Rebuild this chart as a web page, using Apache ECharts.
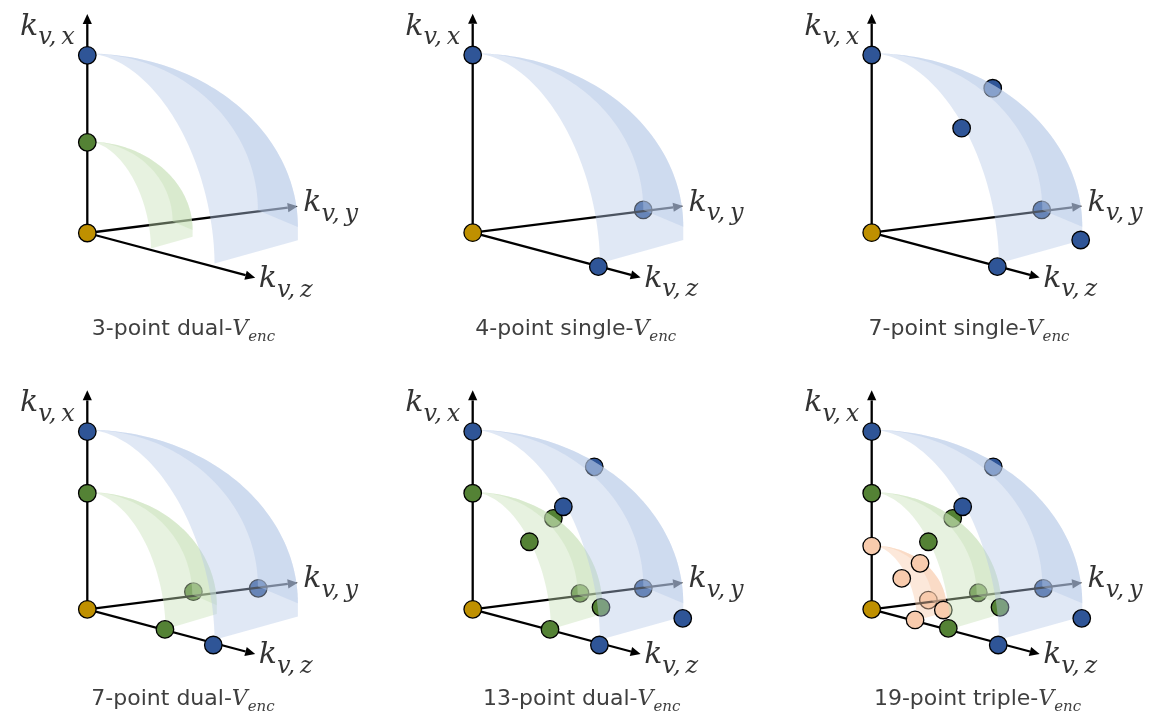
<!DOCTYPE html>
<html>
<head>
<meta charset="utf-8">
<script src="https://cdn.jsdelivr.net/npm/echarts@6/dist/echarts.min.js"></script>
<style>
html,body{margin:0;padding:0;background:#ffffff;}
#c{width:1160px;height:725px;}
</style>
</head>
<body>
<div id="c"></div>
<script>
// ---------------- DATA (normalised units: blue shell radius on k_vx = 1) ----------------
const captions = ['3-point dual-', '4-point single-', '7-point single-', '7-point dual-', '13-point dual-', '19-point triple-'];
const axisLabels = { x: 'v,\u2009x', y: 'v,\u2009y', z: 'v,\u2009z' };
const axisTips = { x: [0, 1.232], y: [1.184, 0.150], z: [0.945, -0.252] };

// points: [x, y, colour, layer]  (layer 0 = behind every shell, 1 = behind green/blue, 2 = behind blue, 3 = front)
const points1 = [[0,0,'gold',3],[0,1,'blue',3],[0,0.51,'green',3]];
const points2 = [[0,0,'gold',3],[0,1,'blue',3],[0.960,0.128,'blue',0],[0.707,-0.191,'blue',3]];
const points3 = [[0,0,'gold',3],[0,1,'blue',3],[0.681,0.813,'blue',0],[0.506,0.588,'blue',3],
                 [0.957,0.128,'blue',0],[1.176,-0.041,'blue',3],[0.707,-0.191,'blue',3]];
const points4 = [[0,0,'gold',3],[0,1,'blue',3],[0,0.653,'green',3],[0.597,0.099,'green',0],
                 [0.962,0.118,'blue',0],[0.437,-0.113,'green',3],[0.709,-0.201,'blue',3]];
const points5 = [[0,0,'gold',3],[0,1,'blue',3],[0,0.653,'green',3],[0.684,0.802,'blue',0],
                 [0.454,0.512,'green',0],[0.510,0.577,'blue',3],[0.319,0.380,'green',3],
                 [0.604,0.090,'green',0],[0.722,0.011,'green',2],[0.960,0.118,'blue',0],
                 [1.182,-0.051,'blue',3],[0.435,-0.113,'green',3],[0.713,-0.201,'blue',3]];
const points6 = [[0,0,'gold',3],[0,1,'blue',3],[0,0.653,'green',3],[0,0.356,'peach',3],
                 [0.684,0.802,'blue',0],[0.456,0.512,'green',0],[0.512,0.577,'blue',3],[0.319,0.380,'green',3],
                 [0.272,0.259,'peach',1],[0.169,0.174,'peach',3],[0.319,0.052,'peach',0],[0.403,-0.004,'peach',1],
                 [0.244,-0.060,'peach',3],[0.431,-0.107,'green',3],[0.600,0.093,'green',0],[0.722,0.011,'green',2],
                 [0.966,0.118,'blue',0],[1.182,-0.051,'blue',3],[0.712,-0.201,'blue',3]];

// shells: [colour, scaleX, scaleY]
const shells1 = [['green',0.50,0.51],['blue',1,1]];
const shells2 = [['blue',1,1]];
const shells3 = [['blue',1,1]];
const shells4 = [['green',0.615,0.653],['blue',1,1]];
const shells5 = [['green',0.615,0.653],['blue',1,1]];
const shells6 = [['peach',0.355,0.356],['green',0.615,0.653],['blue',1,1]];

const panelPoints = [points1, points2, points3, points4, points5, points6];
const panelShells = [shells1, shells2, shells3, shells4, shells5, shells6];

// ---------------- STYLE / LAYOUT ----------------
const U = 177.7;                       // px per unit
const X_MIN = -0.45, X_MAX = 1.55, Y_MIN = -0.4, Y_MAX = 1.3;
const ORIGINS = [[87.3,233],[472.7,232.7],[871.7,232.7],[87.3,609.3],[472.7,609.3],[871.7,609.3]];
const CAPTION_POS = [[183.5,323],[575.8,323],[969,323],[183,693],[581.7,693],[977.5,693]];
const pointColors = { blue:'#2F5597', green:'#548235', gold:'#BF9000', peach:'#F8CBAD' };
const surfaceColors = { blue:'rgba(180,199,231,0.42)', green:'rgba(197,224,180,0.42)', peach:'rgba(248,203,173,0.45)' };
const SURF_Z = { peach:3, green:5, blue:7 };
const LAYER_Z = [1, 4, 6, 9];

// template shell outline (sphere octant seen obliquely)
const TOP = 1.01;
const TPL = { K:[0.960,0.128], C1:[1.185,0.034], C2:[1.185,-0.041], C3:[0.716,-0.172] };
function quarter(cy, rx, ry, n, p) {
  const out = [];
  for (let j = 0; j <= n; j++) {
    const t = j / n * Math.PI / 2;
    const s = Math.pow(Math.sin(t), 2 / p), c = Math.pow(Math.cos(t), 2 / p);
    out.push([rx * s, cy + ry * c]);
  }
  return out;
}
const outerArc = quarter(TPL.C1[1], TPL.C1[0], TOP - TPL.C1[1], 60, 2);
const leftArc  = quarter(TPL.C3[1], TPL.C3[0], TOP - TPL.C3[1], 60, 1.85);
const xyArc    = quarter(TPL.K[1],  TPL.K[0],  TOP - TPL.K[1],  60, 2);
const polyA = outerArc.concat([TPL.C2], leftArc.slice().reverse());
const polyB = outerArc.concat(xyArc.slice().reverse());

function renderShell(color) {
  return function (params, api) {
    const sx = api.value(0), sy = api.value(1);
    const map = pts => pts.map(p => api.coord([p[0] * sx, p[1] * sy]));
    return { type:'group', children:[
      { type:'polygon', shape:{ points: map(polyA) }, style:{ fill: color } },
      { type:'polygon', shape:{ points: map(polyB) }, style:{ fill: color } }
    ]};
  };
}

const ARROW_LEN = 10, ARROW_HALF = 4.6, LINE_W = 2.3;
function renderAxis(params, api) {
  const o = api.coord([0, 0]);
  const t = api.coord([api.value(0), api.value(1)]);
  const dx = t[0] - o[0], dy = t[1] - o[1];
  const len = Math.sqrt(dx*dx + dy*dy);
  const ux = dx / len, uy = dy / len;
  const bx = t[0] - ux * ARROW_LEN, by = t[1] - uy * ARROW_LEN;
  const nx = -uy, ny = ux;
  return { type:'group', children:[
    { type:'line', shape:{ x1:o[0], y1:o[1], x2:bx, y2:by }, style:{ stroke:'#000', lineWidth:LINE_W } },
    { type:'polygon', shape:{ points:[[t[0],t[1]],[bx + nx*ARROW_HALF, by + ny*ARROW_HALF],[bx - nx*ARROW_HALF, by - ny*ARROW_HALF]] },
      style:{ fill:'#000' } }
  ]};
}

const labelRich = {
  k: { fontFamily:'DejaVu Serif', fontStyle:'italic', fontSize:30, lineHeight:30, padding:[0,0,8,0], verticalAlign:'bottom', color:'#000' },
  s: { fontFamily:'DejaVu Serif', fontStyle:'italic', fontSize:24, lineHeight:24, verticalAlign:'bottom', color:'#000' }
};
const captionRich = {
  t: { fontFamily:'DejaVu Sans', fontWeight:'normal', fontSize:22, lineHeight:22, padding:[0,0,5,0], verticalAlign:'bottom', color:'#3f3f3f' },
  v: { fontFamily:'DejaVu Serif', fontWeight:'normal', fontStyle:'italic', fontSize:22, lineHeight:22, padding:[0,0,5,0], verticalAlign:'bottom', color:'#3f3f3f' },
  e: { fontFamily:'DejaVu Serif', fontWeight:'normal', fontStyle:'italic', fontSize:15, lineHeight:15, verticalAlign:'bottom', color:'#3f3f3f' }
};

const grids = [], xAxes = [], yAxes = [], series = [], titles = [];
panelPoints.forEach((pts, i) => {
  const [ox, oy] = ORIGINS[i];
  grids.push({ left: ox + X_MIN * U, top: oy - Y_MAX * U, width: (X_MAX - X_MIN) * U, height: (Y_MAX - Y_MIN) * U,
               containLabel:false, outerBoundsMode:'none' });
  xAxes.push({ type:'value', gridIndex:i, min:X_MIN, max:X_MAX, show:false, splitLine:{show:false} });
  yAxes.push({ type:'value', gridIndex:i, min:Y_MIN, max:Y_MAX, show:false, splitLine:{show:false} });
  const ax = { xAxisIndex:i, yAxisIndex:i, silent:true };

  // points by layer
  [0,1,2,3].forEach(layer => {
    const d = pts.filter(p => p[3] === layer);
    if (!d.length) return;
    series.push(Object.assign({ type:'scatter', z:LAYER_Z[layer], clip:false, symbol:'circle', symbolSize:17.5,
      itemStyle:{ borderColor:'#000', borderWidth:1.3, opacity:1 },
      data: d.map(p => ({ value:[p[0], p[1]], itemStyle:{ color: pointColors[p[2]] } }))
    }, ax));
  });

  // k_vy axis (behind shells)
  series.push(Object.assign({ type:'custom', z:2, renderItem:renderAxis, data:[axisTips.y] }, ax));
  // k_vx, k_vz axes
  series.push(Object.assign({ type:'custom', z:8, renderItem:renderAxis, data:[axisTips.x, axisTips.z] }, ax));

  // shells
  panelShells[i].forEach(sh => {
    series.push(Object.assign({ type:'custom', z:SURF_Z[sh[0]], renderItem:renderShell(surfaceColors[sh[0]]),
      data:[[sh[1], sh[2]]] }, ax));
  });

  // axis name labels
  series.push(Object.assign({ type:'scatter', z:10, clip:false, symbolSize:1, itemStyle:{ color:'rgba(0,0,0,0)' },
    data:[
      { value: axisTips.x, label:{ show:true, position:'left', distance:12, offset:[0,21], formatter:'{k|k}{s|' + axisLabels.x + '}', rich:labelRich } },
      { value: axisTips.y, label:{ show:true, position:'right', distance:5, offset:[0,5], formatter:'{k|k}{s|' + axisLabels.y + '}', rich:labelRich } },
      { value: axisTips.z, label:{ show:true, position:'right', distance:3, offset:[0,9.5], formatter:'{k|k}{s|' + axisLabels.z + '}', rich:labelRich } }
    ]
  }, ax));

  titles.push({ text:'{t|' + captions[i] + '}{v|V}{e|enc}', left: CAPTION_POS[i][0], top: CAPTION_POS[i][1],
    textAlign:'center', padding:0, textStyle:{ fontWeight:'normal', rich: captionRich } });
});

const chart = echarts.init(document.getElementById('c'), null, { renderer:'canvas' });
chart.setOption({
  animation:false,
  backgroundColor:'#ffffff',
  title: titles,
  grid: grids,
  xAxis: xAxes,
  yAxis: yAxes,
  tooltip: { show:false },
  series: series
});
</script>
</body>
</html>
